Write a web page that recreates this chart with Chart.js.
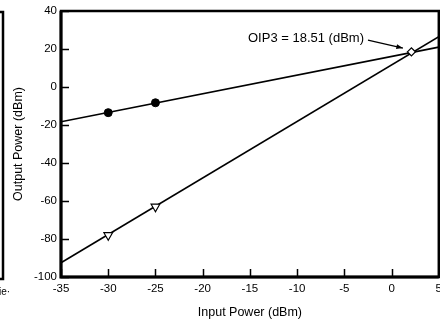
<!DOCTYPE html>
<html>
<head>
<meta charset="utf-8">
<script src="https://cdn.jsdelivr.net/npm/chart.js@4.4.1/dist/chart.umd.min.js"></script>
<style>
  html, body { margin: 0; padding: 0; background: #fff; overflow: hidden; }
  .wrap { position: relative; width: 447px; height: 321px; }
</style>
</head>
<body>
<div class="wrap"><canvas id="myChart"></canvas></div>
<script>
const fundInput = [-30, -25];
const fundOutput = [-13.5, -8.3];
const im3Input = [-30, -25];
const im3Output = [-78, -63];

// fitted lines, end points at the axis limits
const fundLineInput = [-35, 5];
const fundLineOutput = [-18.3, 21];
const im3LineInput = [-35, 5];
const im3LineOutput = [-92.5, 26.5];

// third order intercept
const oip3Input = [2.1];
const oip3Output = [18.5];
const oip3Label = "OIP3 = 18.51 (dBm)";

const xTicks = [-35, -30, -25, -20, -15, -10, -5, 0, 5];
const yTicks = [-100, -80, -60, -40, -20, 0, 20, 40];

const toPoints = (xs, ys) => xs.map((x, i) => ({ x, y: ys[i] }));

const FONT = "'Liberation Sans', Arial, sans-serif";

const framePlugin = {
  id: "frame",
  afterDraw(chart) {
    const { ctx, chartArea: a, scales: { x, y } } = chart;
    ctx.save();
    ctx.strokeStyle = "#000";
    ctx.lineWidth = 2.5;
    ctx.strokeRect(a.left, a.top, a.right - a.left, a.bottom - a.top);
    // bottom and left axes a bit heavier
    ctx.lineWidth = 3;
    ctx.beginPath();
    ctx.moveTo(a.left, a.top);
    ctx.lineTo(a.left, a.bottom);
    ctx.lineTo(a.right, a.bottom);
    ctx.stroke();

    // inward tick marks
    ctx.lineWidth = 1.5;
    ctx.beginPath();
    x.ticks.forEach(t => {
      const px = Math.round(x.getPixelForValue(t.value)) + 0.5;
      ctx.moveTo(px, a.bottom);
      ctx.lineTo(px, a.bottom - 8);
    });
    y.ticks.forEach(t => {
      const py = Math.round(y.getPixelForValue(t.value)) + 0.5;
      ctx.moveTo(a.left, py);
      ctx.lineTo(a.left + 8, py);
    });
    ctx.stroke();

    // OIP3 annotation with arrow
    ctx.fillStyle = "#000";
    ctx.font = "13px " + FONT;
    ctx.textBaseline = "middle";
    ctx.textAlign = "left";
    ctx.fillText(oip3Label, x.getPixelForValue(-15.2), y.getPixelForValue(25.8));

    const x0 = x.getPixelForValue(-2.5), y0 = y.getPixelForValue(24.7);
    const x1 = x.getPixelForValue(1.2), y1 = y.getPixelForValue(20.5);
    const ang = Math.atan2(y1 - y0, x1 - x0);
    ctx.lineWidth = 1.2;
    ctx.beginPath();
    ctx.moveTo(x0, y0);
    ctx.lineTo(x1, y1);
    ctx.stroke();
    ctx.beginPath();
    ctx.moveTo(x1, y1);
    ctx.lineTo(x1 - 7 * Math.cos(ang - 0.35), y1 - 7 * Math.sin(ang - 0.35));
    ctx.lineTo(x1 - 7 * Math.cos(ang + 0.35), y1 - 7 * Math.sin(ang + 0.35));
    ctx.closePath();
    ctx.fill();

    // edge of the neighbouring figure on the scanned page
    ctx.lineWidth = 2.5;
    ctx.beginPath();
    ctx.moveTo(0, 12);
    ctx.lineTo(3, 12);
    ctx.lineTo(3, 279);
    ctx.lineTo(0, 279);
    ctx.stroke();
    ctx.font = "10px " + FONT;
    ctx.fillText("ie·", -1, 292);
    ctx.restore();
  }
};

const ctx = document.getElementById("myChart").getContext("2d");
const myChart = new Chart(ctx, {
  type: "scatter",
  data: {
    datasets: [
      {
        label: "OIP3",
        data: toPoints(oip3Input, oip3Output),
        pointStyle: "rectRot",
        pointRadius: 4,
        backgroundColor: "#fff",
        borderColor: "#000",
        borderWidth: 1.3,
        order: 0
      },
      {
        label: "Fundamental",
        data: toPoints(fundInput, fundOutput),
        pointStyle: "circle",
        pointRadius: 4,
        backgroundColor: "#000",
        borderColor: "#000",
        order: 1
      },
      {
        label: "IM3",
        data: toPoints(im3Input, im3Output),
        pointStyle: "triangle",
        rotation: 180,
        pointRadius: 5,
        backgroundColor: "#fff",
        borderColor: "#000",
        borderWidth: 1.2,
        order: 2
      },
      {
        label: "Fundamental fit",
        data: toPoints(fundLineInput, fundLineOutput),
        showLine: true,
        pointRadius: 0,
        borderColor: "#000",
        borderWidth: 1.6,
        order: 3
      },
      {
        label: "IM3 fit",
        data: toPoints(im3LineInput, im3LineOutput),
        showLine: true,
        pointRadius: 0,
        borderColor: "#000",
        borderWidth: 1.6,
        order: 4
      }
    ]
  },
  options: {
    responsive: true,
    maintainAspectRatio: false,
    animation: false,
    layout: { padding: { top: 11, left: 0, right: 0, bottom: 0 } },
    plugins: { legend: { display: false }, tooltip: { enabled: false } },
    scales: {
      x: {
        type: "linear",
        min: -35,
        max: 5,
        afterBuildTicks: s => { s.ticks = xTicks.map(v => ({ value: v })); },
        afterFit: s => { s.height = 44; },
        ticks: { font: { family: FONT, size: 11.5 }, color: "#000", padding: 5, maxRotation: 0 },
        grid: { display: false, drawTicks: false },
        border: { display: false },
        title: {
          display: true,
          text: "Input Power (dBm)",
          font: { family: FONT, size: 12.5 },
          color: "#000",
          padding: { top: 2, bottom: 1 }
        }
      },
      y: {
        type: "linear",
        min: -100,
        max: 40,
        afterBuildTicks: s => { s.ticks = yTicks.map(v => ({ value: v })); },
        afterFit: s => { s.width = 61; },
        ticks: { font: { family: FONT, size: 11.5 }, color: "#000", padding: 4 },
        grid: { display: false, drawTicks: false },
        border: { display: false },
        title: {
          display: true,
          text: "Output Power (dBm)",
          font: { family: FONT, size: 12.5 },
          color: "#000",
          padding: { top: 11, bottom: 11 }
        }
      }
    }
  },
  plugins: [framePlugin]
});
</script>
</body>
</html>
